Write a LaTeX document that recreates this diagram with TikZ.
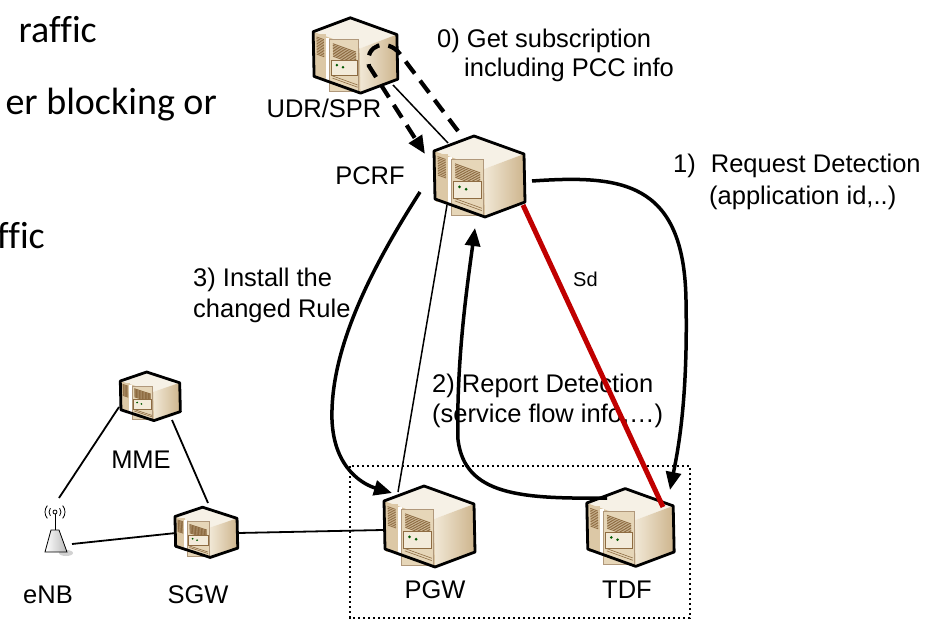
\documentclass[tikz,border=0pt]{standalone}
\usepackage{fontspec}
\setmainfont{Liberation Sans}
\newfontfamily\calib[Ligatures=NoCommon]{Carlito}
\usetikzlibrary{arrows.meta}
\definecolor{sdred}{HTML}{C00000}
\definecolor{srvtop}{HTML}{F6F1E6}
\definecolor{srvright1}{HTML}{F1E8D6}
\definecolor{srvright2}{HTML}{CDB48C}
\definecolor{srvleft}{HTML}{D9C39E}
\definecolor{srvpanel}{HTML}{E6D6B8}
\definecolor{srvtower}{HTML}{DCC8A6}
\definecolor{srvvent}{HTML}{8E6C42}
\definecolor{srvbar}{HTML}{F3EBDA}
\tikzset{
  pics/server/.style={code={
    \fill[srvtop] (-5,-40) -- (45,-22) -- (5,-7) -- (-45,-25) -- cycle;
    \shade[left color=srvright1, right color=srvright2] (5,-7) -- (45,-22) -- (46,26) -- (6,41) -- cycle;
    \fill[srvleft] (-45,-25) -- (5,-7) -- (6,41) -- (-44,23) -- cycle;
    \begin{scope}[shift={(-45,-25)}, x={(50pt,-18pt)}, y={(1pt,-48pt)}]
      \fill[srvtower] (0.04,0.04) rectangle (0.26,0.96);
      \foreach \v in {0.09,0.125,...,0.5} \draw[srvvent, line width=0.8pt] (0.07,\v) -- (0.23,\v);
      \fill[white] (0.27,0.03) rectangle (0.33,1);
      \draw[srvvent!70, line width=0.4pt, fill=srvpanel] (0.35,0.04) rectangle (0.96,0.97);
      \foreach \v in {0.11,0.145,...,0.42} \draw[srvvent, line width=0.9pt] (0.42,\v) -- (0.92,\v);
      \draw[srvvent, line width=0.5pt, fill=srvbar] (0.38,0.49) rectangle (0.94,0.63);
      \fill[green!35!black] (0.5,0.56) circle[radius=1.5pt] (0.63,0.56) circle[radius=1.5pt];
      \foreach \v in {0.84,0.89} \draw[srvvent, line width=0.6pt] (0.4,\v) -- (0.94,\v);
    \end{scope}
    \draw[line width=2.8pt, line join=round] (-5,-40) -- (45,-22) -- (46,26) -- (6,41) -- (-44,23) -- (-45,-25) -- cycle;
  }},
  srvbox/.style={inner sep=0pt, minimum width=91pt, minimum height=81pt},
  lbl/.style={inner sep=0pt, font=\fontsize{25.5}{30}\selectfont},
  big/.style={inner sep=0pt, anchor=base east, font=\calib\fontsize{38}{42}\selectfont},
  flow/.style={line width=3.5pt, -{Triangle[length=18pt,width=15pt]}},
  query/.style={line width=4.2pt, dash pattern=on 15pt off 9pt, -{Triangle[length=18pt,width=15pt]}},
  link/.style={line width=1.5pt},
  ifc/.style={line width=1.8pt},
  sdlink/.style={line width=5pt, sdred},
  tdfbox/.style={line width=2.4pt, dash pattern=on 2.4pt off 2.6pt}
}
\begin{document}
\begin{tikzpicture}[x=1pt,y=-1pt]
\useasboundingbox (0,0) rectangle (931,620);

% left slide text (cut)
\node[big] (s1) at (97,43) {raffic};
\node[big] (s2) at (217,115) {er blocking or};
\node[big] (s3) at (45,248) {ffic};

% dotted area
\draw[tdfbox] (350,466) rectangle (690,618);

% element boxes
\node[srvbox] (udr)  at (355,55)  {};
\node[srvbox] (pcrf) at (479,176) {};
\node[srvbox] (pgw)  at (429,526) {};
\node[srvbox] (tdf)  at (630,527) {};
\node[srvbox] (mme)  at (150,396) {};
\node[srvbox] (sgw)  at (206,532) {};
\node[inner sep=0pt, minimum width=24pt, minimum height=44pt] (enb) at (56,532) {};

% server icons
\pic[scale=0.93] at (udr) {server};
\pic at (pcrf) {server};
\pic at (pgw) {server};
\pic[scale=0.96] at (tdf) {server};
\pic[xscale=0.66, yscale=0.6] at (mme) {server};
\pic[xscale=0.69, yscale=0.62] at (sgw) {server};

% eNB antenna
\fill[gray!35] (66,553) ellipse (7 and 3);
\draw[line width=0.8pt, left color=white, right color=gray!55] (51,530) -- (59,530) -- (67,552) -- (45,552) -- cycle;
\draw[line width=1pt] (55,514) -- (55,530);
\draw[line width=0.8pt] (55,512) circle[radius=2];
\draw[line width=0.8pt] (55,512) ++(140:6) arc[start angle=140, end angle=220, radius=6];
\draw[line width=0.8pt] (55,512) ++(140:10) arc[start angle=140, end angle=220, radius=10];
\draw[line width=0.8pt] (55,512) ++(-40:6) arc[start angle=-40, end angle=40, radius=6];
\draw[line width=0.8pt] (55,512) ++(-40:10) arc[start angle=-40, end angle=40, radius=10];

% element labels
\node[lbl, anchor=base] (ludr)  at (324,118) {UDR/SPR};
\node[lbl, anchor=base] (lpcrf) at (370,185) {PCRF};
\node[lbl, anchor=base] (lmme)  at (141,468) {MME};
\node[lbl, anchor=base] (lsgw)  at (198,603) {SGW};
\node[lbl, anchor=base] (lenb)  at (48,603)  {eNB};
\node[lbl, anchor=base] (lpgw)  at (435,598) {PGW};
\node[lbl, anchor=base] (ltdf)  at (627,598) {TDF};

% step labels
\node[lbl, anchor=base west] (t0a) at (437,48) {0) Get subscription};
\node[lbl, anchor=base west] (t0b) at (464,77) {including PCC info};
\node[lbl, anchor=base west] (t1a) at (673,173) {1)\hspace*{15pt}Request Detection};
\node[lbl, anchor=base west] (t1b) at (709,205) {(application id,..)};
\node[lbl, anchor=base west, font=\fontsize{20}{24}\selectfont] (tsd) at (573,287) {Sd};
\node[lbl, anchor=base west] (t2a) at (432,392) {2) Report Detection};
\node[lbl, anchor=base west] (t2b) at (432,422) {(service flow info,…)};
\node[lbl, anchor=base west] (t3a) at (193,287) {3) Install the};
\node[lbl, anchor=base west] (t3b) at (193,317) {changed Rule};

% connector end points
\coordinate (udr-se)   at (393,85);
\coordinate (pcrf-nw)  at (448,143);
\coordinate (pcrf-n)   at (458,131);
\coordinate (udr-top1) at (400,54);
\coordinate (udr-top2) at (369,66);
\coordinate (pcrf-w)   at (425,154);
\coordinate (pcrf-sw)  at (447,205);
\coordinate (pgw-nw)   at (398,492);
\coordinate (pcrf-se)  at (523,205);
\coordinate (tdf-ne)   at (663,507);
\coordinate (pcrf-e)   at (532,181);
\coordinate (r1)       at (686,300);
\coordinate (tdf-n)    at (670,490);
\coordinate (tdf-w)    at (607,498);
\coordinate (r2)       at (458,440);
\coordinate (pcrf-s)   at (475,228);
\coordinate (pcrf-l)   at (420,192);
\coordinate (r3)       at (332,420);
\coordinate (pgw-in)   at (392,493);
\coordinate (enb-n)    at (59,498);
\coordinate (enb-e)    at (72,544);
\coordinate (mme-sw)   at (119,407);
\coordinate (mme-se)   at (172,420);
\coordinate (sgw-n)    at (208,503);
\coordinate (sgw-w)    at (176,533);
\coordinate (sgw-e)    at (238,533);
\coordinate (pgw-w)    at (383,530);

% interfaces
\draw[link] (udr-se) -- (pcrf-nw);
\draw[link] (pcrf-sw) -- (pgw-nw);
\draw[ifc] (enb-n) -- (mme-sw);
\draw[ifc] (mme-se) -- (sgw-n);
\draw[ifc] (enb-e) -- (sgw-w);
\draw[ifc] (sgw-e) -- (pgw-w);
\draw[sdlink] (pcrf-se) -- (tdf-ne);

% message flows
\draw[query] (pcrf-n) -- (udr-top1) .. controls (388,38) and (364,44) .. (udr-top2) -- (pcrf-w);
\draw[flow] (pcrf-e) .. controls (620,175) and (684,180) .. (r1) .. controls (688,400) and (678,450) .. (tdf-n);
\draw[flow] (tdf-w) .. controls (520,499) and (465,495) .. (r2) .. controls (456,360) and (468,280) .. (pcrf-s);
\draw[flow] (pcrf-l) .. controls (370,270) and (330,350) .. (r3) .. controls (334,470) and (365,485) .. (pgw-in);
\end{tikzpicture}
\end{document}
